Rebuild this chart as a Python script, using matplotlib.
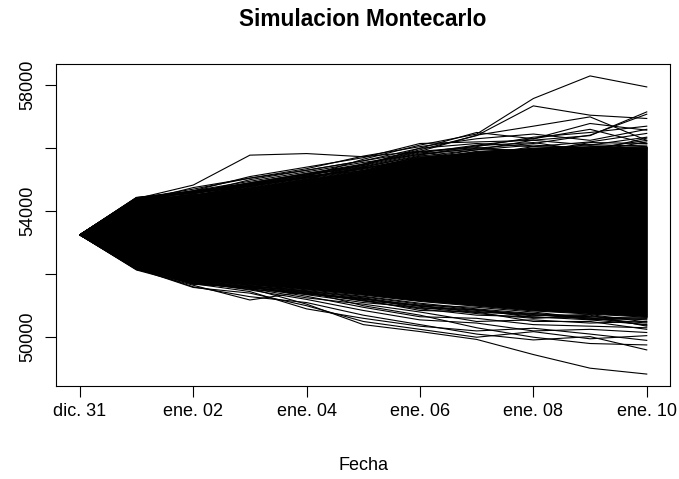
import matplotlib
matplotlib.use("Agg")
import matplotlib.pyplot as plt
import numpy as np

plt.rcParams['font.family'] = ['Liberation Sans', 'DejaVu Sans']

# Days since the starting close (dic. 31 -> ene. 10)
days = list(range(11))
date_labels = ["dic. 31", "ene. 02", "ene. 04", "ene. 06", "ene. 08", "ene. 10"]
date_ticks = [0, 2, 4, 6, 8, 10]

# Dense body of the simulated paths (upper / lower edge of the solid band)
core_upper = [53250, 54420, 54540, 54780, 55040, 55300, 55700, 55900, 56000, 56050, 56050]
core_lower = [53250, 52160, 51800, 51680, 51520, 51350, 51150, 51000, 50850, 50750, 50650]

# Individual paths running above the dense body
upper_paths = [
    [53250, 54400, 54830, 55780, 55830, 55730, 55900, 55600, 55400, 55500, 55300],
    [53250, 54200, 54500, 54800, 55100, 55650, 56100, 56450, 57578, 58295, 57946],
    [53250, 54300, 54400, 54700, 55000, 55500, 55950, 56400, 57344, 57049, 56944],
    [53250, 54250, 54550, 54900, 55200, 55500, 55900, 56415, 56700, 56995, 56250],
    [53250, 54350, 54600, 54850, 55150, 55450, 55850, 56100, 56300, 56785, 56573],
    [53250, 54300, 54500, 54800, 55050, 55400, 55750, 55950, 56256, 56400, 57153],
    [53250, 54380, 54650, 54950, 55250, 55550, 55800, 56000, 56150, 56415, 57080],
    [53250, 54400, 54700, 55050, 55300, 55600, 56000, 56150, 56050, 56200, 56470],
    [53250, 54350, 54650, 55100, 55400, 55700, 56150, 56200, 56250, 56100, 56350],
    [53250, 54420, 54600, 54900, 55200, 55450, 56000, 56500, 56300, 56600, 56150],
    [53250, 54300, 54750, 55050, 55350, 55750, 56050, 56300, 56450, 56250, 56600],
    [53250, 54200, 54550, 55000, 55300, 55600, 55900, 56050, 56350, 56500, 56700],
    [53250, 54430, 54560, 54800, 55050, 55300, 55650, 55800, 55950, 55950, 56000],
    [53250, 54380, 54600, 54850, 55100, 55350, 55700, 55850, 55900, 56050, 56100],
    [53250, 54410, 54580, 54780, 55080, 55380, 55620, 55900, 55980, 55900, 56200],
    [53250, 54440, 54630, 54820, 55120, 55280, 55750, 55780, 56050, 56000, 55950],
    [53250, 54400, 54610, 54870, 55160, 55420, 55820, 55980, 55920, 56120, 56050],
    [53250, 54390, 54590, 54830, 55090, 55330, 55680, 55950, 56100, 55980, 56250],
    [53250, 54430, 54640, 54900, 55180, 55480, 55880, 56020, 55880, 56180, 56150],
    [53250, 54410, 54570, 54810, 55060, 55360, 55720, 55820, 56000, 56080, 55980],
    [53250, 54420, 54620, 54880, 55140, 55400, 55780, 56080, 56180, 55920, 56320],
]

# Individual paths running below the dense body
lower_paths = [
    [53250, 52300, 51850, 51550, 51050, 50400, 50180, 49930, 49450, 49017, 48830],
    [53250, 52134, 51650, 51182, 51450, 51000, 50700, 50300, 50000, 49800, 49755],
    [53250, 52200, 51600, 51287, 51100, 50700, 50400, 50100, 49914, 50019, 49597],
    [53250, 52250, 51700, 51450, 50900, 50600, 50350, 50200, 50285, 50100, 49900],
    [53250, 52180, 51580, 51400, 51000, 50500, 50250, 50000, 50177, 49950, 50050],
    [53250, 52300, 51750, 51500, 51200, 50850, 50550, 50450, 50200, 50250, 50150],
    [53250, 52400, 51800, 51600, 51300, 50950, 50650, 50600, 50400, 50350, 50300],
    [53250, 52350, 51700, 51550, 51250, 51050, 50800, 50500, 50550, 50450, 50500],
    [53250, 52450, 51850, 51650, 51400, 51150, 50900, 50700, 50650, 50550, 50400],
    [53250, 52500, 51900, 51700, 51450, 51250, 51000, 50850, 50700, 50650, 50600],
    [53250, 52150, 51720, 51620, 51480, 51300, 51080, 50900, 50750, 50650, 50550],
    [53250, 52200, 51760, 51580, 51420, 51200, 51020, 50950, 50800, 50600, 50450],
    [53250, 52170, 51680, 51600, 51350, 51100, 50950, 50750, 50600, 50700, 50350],
    [53250, 52220, 51740, 51520, 51380, 51180, 50850, 50800, 50500, 50500, 50250],
    [53250, 52190, 51770, 51640, 51460, 51280, 51050, 50870, 50720, 50580, 50620],
    [53250, 52230, 51710, 51560, 51400, 51220, 50980, 50820, 50680, 50720, 50480],
    [53250, 52160, 51690, 51610, 51440, 51160, 51000, 50780, 50760, 50560, 50580],
    [53250, 52260, 51750, 51590, 51360, 51240, 50920, 50880, 50620, 50620, 50380],
]

y_ticks = [50000, 52000, 54000, 56000, 58000]
y_tick_labels = ["50000", "", "54000", "", "58000"]

W, H = 679, 479
fig = plt.figure(figsize=(W / 100, H / 100), dpi=100)
ax = fig.add_axes([56 / W, (H - 386) / H, (670 - 56) / W, (386 - 64) / H])

ax.fill_between(days, core_lower, core_upper, color="black", lw=0.8, edgecolor="black")
for p in upper_paths + lower_paths:
    ax.plot(days, p, color="black", lw=0.8, solid_joinstyle="miter")

# R-style 4% padding around the data range
all_vals = np.array(upper_paths + lower_paths + [core_upper, core_lower])
lo, hi = all_vals.min(), all_vals.max()
pad = 0.04 * (hi - lo)
ax.set_ylim(lo - pad, hi + pad)
ax.set_xlim(-0.42, 10.41)

ax.set_xticks(date_ticks)
ax.set_xticklabels(date_labels, fontsize=13)
ax.set_yticks(y_ticks)
ax.set_yticklabels(y_tick_labels, fontsize=13, rotation=90, va="center")
ax.tick_params(axis="both", direction="out", length=8.2, width=0.8, color="black")
ax.tick_params(axis="x", pad=4)
ax.tick_params(axis="y", pad=6)
for s in ax.spines.values():
    s.set_linewidth(0.8)
    s.set_color("black")

fig.text(363 / W, 1 - 19 / H, "Simulacion Montecarlo", ha="center", va="center",
         fontsize=16.3, fontweight="bold")
fig.text(363 / W, 1 - 466 / H, "Fecha", ha="center", va="center", fontsize=13)

fig.savefig("out.png", dpi=100)
